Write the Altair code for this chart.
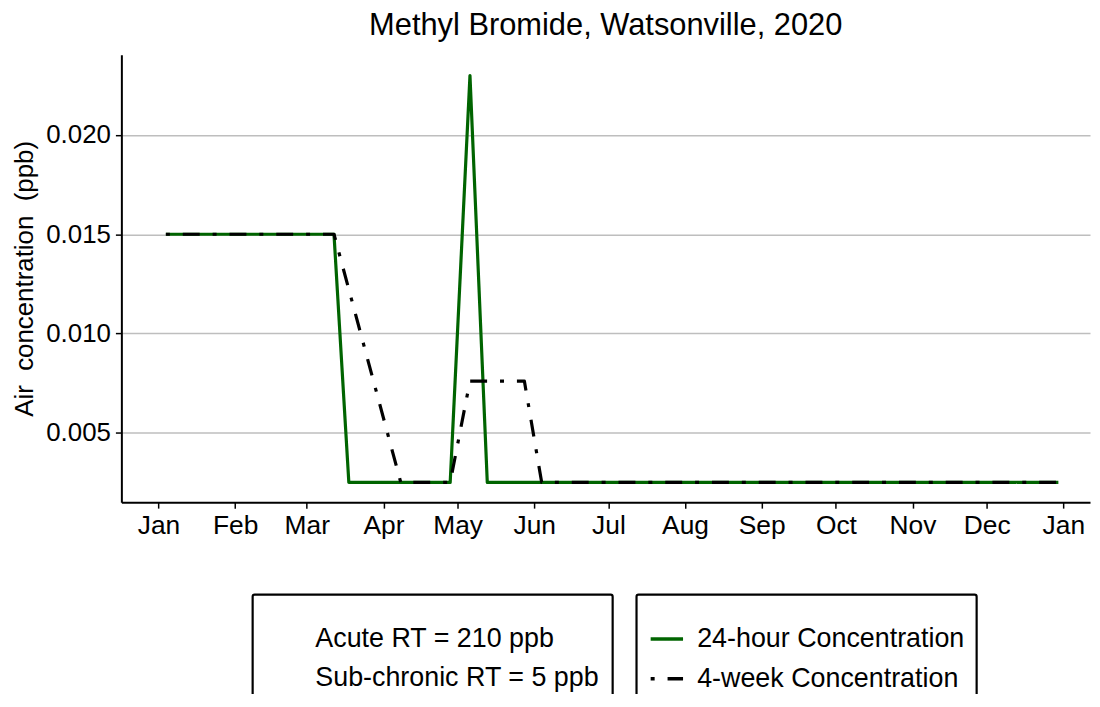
import altair as alt
import pandas as pd

FONT = "Liberation Sans"
NB = "\u00a0"

title_text = "Methyl Bromide, Watsonville, 2020"
y_title = "Air" + NB + " concentration" + NB + " (ppb)"
series_names = ["24-hour Concentration", "4-week Concentration"]
series_colors = ["#006400", "#000000"]
series_dashes = [[1, 0], [4, 13, 17, 13]]

dates_24h = ["2020-01-04", "2020-03-12", "2020-03-18", "2020-04-28",
             "2020-05-06", "2020-05-13", "2020-12-30"]
vals_24h = [0.015, 0.015, 0.0025, 0.0025, 0.023, 0.0025, 0.0025]

dates_4wk = ["2020-01-04", "2020-03-12", "2020-04-08", "2020-04-28",
             "2020-05-06", "2020-05-28", "2020-06-04", "2020-12-30"]
vals_4wk = [0.015, 0.015, 0.0025, 0.0025, 0.0076, 0.0076, 0.0025, 0.0025]

rt_labels = ["Acute RT = 210 ppb", "Sub-chronic RT = 5 ppb"]
y_ticks = [0.005, 0.010, 0.015, 0.020]

df24 = pd.DataFrame({"date": dates_24h, "value": vals_24h, "series": series_names[0]})
df4 = pd.DataFrame({"date": dates_4wk, "value": vals_4wk, "series": series_names[1]})
rt_df = pd.DataFrame({"rt": rt_labels})

month_ticks = [alt.DateTime(year=2020, month=m, date=1, utc=True) for m in range(1, 13)]
month_ticks.append(alt.DateTime(year=2021, month=1, date=1, utc=True))

x_enc = alt.X(
    "date:T",
    scale=alt.Scale(type="utc", domain=[
        alt.DateTime(year=2019, month=12, date=17, utc=True),
        alt.DateTime(year=2021, month=1, date=11, hours=19, utc=True)]),
    axis=alt.Axis(title=None, values=month_ticks, format="%b", labelFontSize=26.5,
                  tickSize=6, tickWidth=1.5, labelPadding=5, grid=False,
                  domainWidth=2, labelFlush=False),
)
y_enc = alt.Y(
    "value:Q",
    scale=alt.Scale(domain=[0.0015, 0.02405], nice=False, zero=False),
    axis=alt.Axis(title=y_title, values=y_ticks, format=".3f", labelFontSize=26,
                  titleFontSize=26, tickSize=6, tickWidth=1.5, labelPadding=5,
                  titlePadding=8, grid=True, gridColor="#bebebe", gridWidth=1.5,
                  domainWidth=2),
)

series_legend = alt.Legend(
    title=" ", titleFontSize=10, titlePadding=4, orient="none", legendX=518, legendY=543,
    padding=12, labelFontSize=27, labelFont=FONT, labelColor="black", labelOffset=12,
    labelLimit=500, symbolType="stroke", symbolSize=1060, symbolStrokeWidth=3.5, rowPadding=8,
    strokeColor="black", cornerRadius=2,
)
color_enc = alt.Color("series:N", scale=alt.Scale(domain=series_names, range=series_colors),
                      legend=series_legend)
dash_enc = alt.StrokeDash("series:N", scale=alt.Scale(domain=series_names, range=series_dashes),
                          legend=series_legend)

l24 = alt.Chart(df24).mark_line(strokeWidth=3.2, strokeJoin="round").encode(
    x=x_enc, y=y_enc, color=color_enc, strokeDash=dash_enc)
l4 = alt.Chart(df4).mark_line(strokeWidth=3.2, strokeJoin="round").encode(
    x=x_enc, y=y_enc, color=color_enc, strokeDash=dash_enc)

rt_layer = alt.Chart(rt_df).mark_point(opacity=0).encode(
    shape=alt.Shape("rt:N", scale=alt.Scale(domain=rt_labels), legend=alt.Legend(
        title=" ", titleFontSize=10, titlePadding=8, orient="none", legendX=132, legendY=543,
        padding=13, labelFontSize=27, labelFont=FONT, labelColor="black", labelOffset=23,
        labelLimit=500, symbolSize=64, symbolOpacity=0, symbolStrokeWidth=0, rowPadding=11,
        strokeColor="black", cornerRadius=2,
    ))
)

chart = alt.layer(l24, l4, rt_layer).properties(
    width=974, height=450,
    title=alt.TitleParams(title_text, fontSize=31, font=FONT, fontWeight="normal",
                          color="black", anchor="middle", offset=13),
    autosize=alt.AutoSizeParams(type="none"),
    padding={"left": 114, "top": 45, "right": 2, "bottom": 191},
).configure_view(stroke=None).configure_axis(
    labelFont=FONT, titleFont=FONT, labelColor="black", titleColor="black",
    domainColor="black", tickColor="black", titleFontWeight="normal",
).configure_legend(strokeWidth=2.2)

chart.save("out.html", embed_options={"renderer": "svg", "actions": False})
